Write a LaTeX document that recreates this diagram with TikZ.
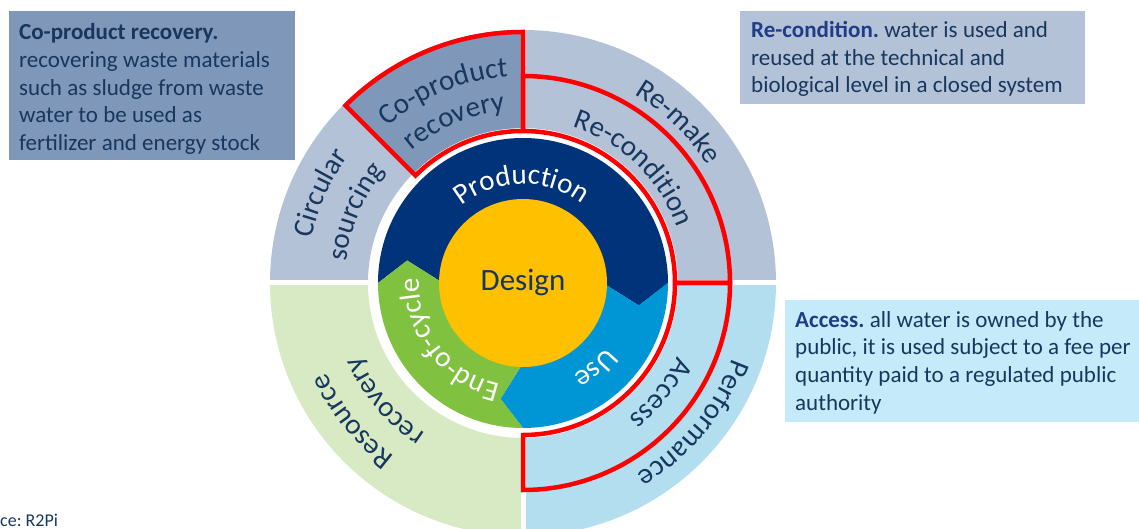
\documentclass[tikz,border=0pt]{standalone}
\usepackage{fontspec}
\setmainfont{Carlito}
\frenchspacing
\usetikzlibrary{decorations.text}
\definecolor{mygray}{RGB}{180,194,216}
\definecolor{myslate}{RGB}{127,151,185}
\definecolor{mylightgreen}{RGB}{216,234,196}
\definecolor{mylightblue}{RGB}{179,222,240}
\definecolor{mypaleblue}{RGB}{197,234,250}
\definecolor{mynavy}{RGB}{0,51,122}
\definecolor{myblue}{RGB}{0,150,214}
\definecolor{mygreen}{RGB}{128,193,64}
\definecolor{myamber}{RGB}{255,192,0}
\definecolor{mytext}{RGB}{23,55,94}
\definecolor{mytitle}{RGB}{31,60,136}
\definecolor{myred}{RGB}{255,0,0}

\newcommand{\ringfont}{\fontsize{29}{34}\selectfont}
\newcommand{\boxfont}{\fontsize{23}{27.7}\selectfont}
\newcommand{\arclabel}[4]{%
  \path[ringlabel=#3, decoration={text={|\ringfont|#4}}]
    ({#1+70}:#2) arc[start angle={#1+70}, end angle={#1-70}, radius=#2];}

\tikzset{
  redframe/.style={draw=myred, line width=4.5pt, line join=miter},
  gapline/.style={draw=white, line width=5pt},
  ringlabel/.style={decorate, decoration={text along path, text align=center, text color=#1}},
  infobox/.style={anchor=north west, align=left, inner xsep=10pt, inner ysep=0pt, text=mytext, font=\boxfont,
    execute at begin node={\spaceskip=0.23em\xspaceskip=0.23em\relax}}
}

\begin{document}
\begin{tikzpicture}[x=1pt, y=1pt]
  \useasboundingbox (-523,-246) rectangle (616,283);

  \begin{scope}
     \fill[mygray] (90:253) arc[start angle=90, end angle=180, radius=253] -- (180:155) arc[start angle=180, end angle=90, radius=155] -- cycle;
     \fill[myslate] (90:253) arc[start angle=90, end angle=135, radius=253] -- (135:155) arc[start angle=135, end angle=90, radius=155] -- cycle;
     \fill[mygray] (0:253) arc[start angle=0, end angle=90, radius=253] -- (90:155) arc[start angle=90, end angle=0, radius=155] -- cycle;
     \fill[mylightblue] (-90:253) arc[start angle=-90, end angle=0, radius=253] -- (0:155) arc[start angle=0, end angle=-90, radius=155] -- cycle;
     \fill[mylightgreen] (180:253) arc[start angle=180, end angle=270, radius=253] -- (270:155) arc[start angle=270, end angle=180, radius=155] -- cycle;
     \draw[gapline] (-256,0) -- (256,0);
     \draw[gapline] (0,-256) -- (0,256);

     \fill[mynavy] (180:145) arc[start angle=180, end angle=0, radius=145] -- (-11:118) -- (0:80) arc[start angle=0, end angle=180, radius=80] -- (169:118) -- cycle;
     \fill[myblue] (0:145) arc[start angle=0, end angle=-90, radius=145] -- (-101:118) -- (-90:80) arc[start angle=-90, end angle=0, radius=80] -- (-11:118) -- cycle;
     \fill[mygreen] (-90:145) arc[start angle=-90, end angle=-180, radius=145] -- (169:118) -- (180:80) arc[start angle=180, end angle=270, radius=80] -- (-101:118) -- cycle;
     \node (design) at (0,0) [circle, fill=myamber, minimum size=168pt, inner sep=0pt, text=mytext, font=\fontsize{31}{36}\selectfont] {Design};

     \draw[redframe] (90:251) arc[start angle=90, end angle=135, radius=251] -- (135:152) arc[start angle=135, end angle=90, radius=152] -- cycle;
     \draw[redframe] (90:152) -- (90:207) arc[start angle=90, end angle=0, radius=207] -- (0:152) arc[start angle=0, end angle=90, radius=152] -- cycle;
     \draw[redframe] (0:152) -- (0:207) arc[start angle=0, end angle=-90, radius=207] -- (-90:152) arc[start angle=-90, end angle=0, radius=152] -- cycle;

     \arclabel{91}{99}{white}{Production}
     \arclabel{-49.5}{105}{white}{Use}
     \arclabel{217.5}{104}{white}{End-of-cycle}
     \arclabel{112.5}{207}{mytext}{Co-product}
     \arclabel{113}{173}{mytext}{recovery}
     \arclabel{156}{216}{mytext}{Circular}
     \arclabel{157}{178}{mytext}{sourcing}
     \arclabel{46}{219}{mytext}{Re-make}
     \arclabel{46}{164}{mytext}{Re-condition}
     \arclabel{-39.5}{222}{mytext}{Performance}
     \arclabel{-38.7}{171}{mytext}{Access}
     \arclabel{219}{216}{mytext}{Resource}
     \arclabel{220.5}{179}{mytext}{recovery}
  \end{scope}

  \node (coprodbox) at (-514,272) [infobox, fill=myslate, minimum width=286pt, minimum height=149pt, text width=266pt]
     {\rule{0pt}{23pt}\textbf{Co-product recovery.}\\recovering waste materials\\such as sludge from waste\\water to be used as\\fertilizer and energy stock};
  \node (reconbox) at (217,272) [infobox, fill=mygray, inner xsep=11pt, minimum width=345pt, minimum height=93pt, text width=323pt]
     {\rule{0pt}{19pt}\textbf{\color{mytitle}Re-condition.} water is used and\\reused at the technical and\\biological level in a closed system};
  \node (accessbox) at (262,-17) [infobox, fill=mypaleblue, minimum width=364pt, minimum height=122pt, text width=344pt]
     {\rule{0pt}{19pt}\textbf{\color{mytitle}Access.} all water is owned by the\\public, it is used subject to a fee per\\quantity paid to a regulated public\\authority};
  \node (source) at (-523,-243) [anchor=base west, inner sep=0pt, text=mytext, font=\fontsize{18}{22}\selectfont] {ce: R2Pi};
\end{tikzpicture}
\end{document}
